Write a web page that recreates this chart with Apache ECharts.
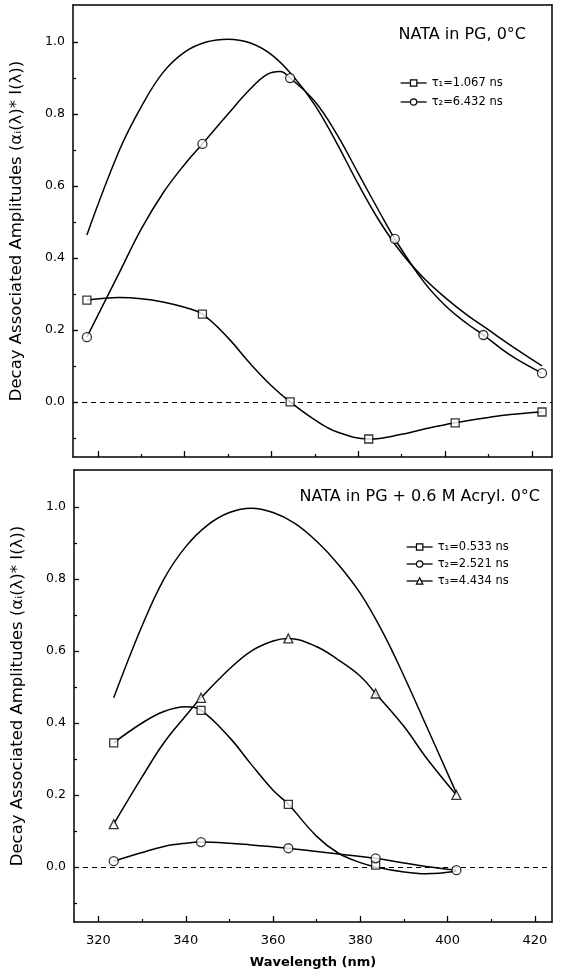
<!DOCTYPE html>
<html><head><meta charset="utf-8">
<script src="https://cdn.jsdelivr.net/npm/echarts@6/dist/echarts.min.js"></script>
<style>html,body{margin:0;padding:0;background:#fff}#c{width:561px;height:975px}</style>
</head><body><div id="c"></div>
<script>
// ---------- data ----------
const xTickVals = [320, 340, 360, 380, 400, 420];
const xMinorVals = [330, 350, 370, 390, 410];
const yTickVals = [0, 0.2, 0.4, 0.6, 0.8, 1.0];
const yTickLabels = ['0.0', '0.2', '0.4', '0.6', '0.8', '1.0'];
const yMinorVals = [-0.1, 0.1, 0.3, 0.5, 0.7, 0.9];

// top panel: NATA in PG, 0°C
const topT1Points = [[317.5, 0.283], [344.1, 0.244], [364.3, 0.0], [382.4, -0.103], [402.3, -0.058], [422.3, -0.028]];
const topT2Points = [[317.5, 0.18], [344.1, 0.717], [364.3, 0.9], [388.4, 0.453], [408.8, 0.186], [422.3, 0.08]];
const topT1Curve = [[317.5, 0.283], [325, 0.29], [330, 0.287], [335, 0.278], [340, 0.263], [344.1, 0.244], [350, 0.178], [355, 0.108], [360, 0.045], [364.3, 0.0], [370, -0.05], [375, -0.083], [382.4, -0.103], [390, -0.09], [395, -0.076], [402.3, -0.058], [410, -0.043], [415, -0.035], [422.3, -0.028]];
const topT2Curve = [[317.5, 0.18], [325, 0.36], [330, 0.48], [335, 0.58], [340, 0.66], [344.1, 0.717], [350, 0.80], [355, 0.868], [359, 0.91], [362, 0.918], [364.3, 0.9], [370, 0.835], [375, 0.745], [380, 0.635], [385, 0.525], [388.4, 0.453], [395, 0.335], [400, 0.268], [405, 0.218], [408.8, 0.186], [415, 0.13], [422.3, 0.08]];
const topSumCurve = [[317.5, 0.464], [325, 0.70], [330, 0.82], [335, 0.915], [340, 0.972], [345, 1.0], [350, 1.008], [355, 0.998], [360, 0.965], [365, 0.905], [370, 0.825], [375, 0.72], [380, 0.605], [385, 0.5], [390, 0.413], [395, 0.345], [400, 0.29], [405, 0.242], [410, 0.2], [415, 0.158], [422.3, 0.1]];

// bottom panel: NATA in PG + 0.6 M Acryl. 0°C
const botT1Points = [[323.5, 0.345], [343.5, 0.435], [363.5, 0.174], [383.5, 0.005]];
const botT2Points = [[323.5, 0.016], [343.5, 0.069], [363.5, 0.052], [383.5, 0.024], [402, -0.009]];
const botT3Points = [[323.5, 0.119], [343.5, 0.47], [363.5, 0.635], [383.5, 0.482], [402, 0.2]];
const botT1Curve = [[323.5, 0.345], [330, 0.40], [335, 0.432], [340, 0.445], [343.5, 0.435], [350, 0.36], [355, 0.285], [360, 0.213], [363.5, 0.174], [370, 0.085], [375, 0.038], [380, 0.012], [383.5, 0.0], [390, -0.014], [395, -0.019], [402, -0.012]];
const botT2Curve = [[323.5, 0.016], [330, 0.04], [335, 0.057], [340, 0.066], [343.5, 0.069], [350, 0.066], [355, 0.061], [363.5, 0.052], [370, 0.043], [375, 0.036], [383.5, 0.024], [390, 0.011], [395, 0.001], [402, -0.009]];
const botT3Curve = [[323.5, 0.119], [330, 0.25], [335, 0.345], [340, 0.42], [343.5, 0.47], [350, 0.55], [355, 0.60], [360, 0.628], [363.5, 0.635], [370, 0.612], [375, 0.575], [380, 0.53], [383.5, 0.482], [390, 0.39], [395, 0.305], [402, 0.2]];
const botSumCurve = [[323.5, 0.47], [330, 0.67], [335, 0.80], [340, 0.89], [345, 0.95], [350, 0.985], [355, 0.997], [360, 0.985], [365, 0.955], [370, 0.905], [375, 0.84], [380, 0.76], [385, 0.655], [390, 0.53], [395, 0.395], [402, 0.205]];

const topNames = ['τ\u2081=1.067 ns', 'τ\u2082=6.432 ns'];
const botNames = ['τ\u2081=0.533 ns', 'τ\u2082=2.521 ns', 'τ\u2083=4.434 ns'];
const topTitle = 'NATA in PG, 0°C';
const botTitle = 'NATA in PG + 0.6 M Acryl. 0°C';
const yName = 'Decay Associated Amplitudes (α\u1D62(λ)* I(λ))';
const xName = 'Wavelength (nm)';

// ---------- chart ----------
const FONT = '"DejaVu Sans", Arial, sans-serif';
const K = '#000';
const grids = [
  {left: 70, top: 5, width: 482, height: 452, xmin: 314.3, xmax: 424.6, labels: false},
  {left: 74, top: 470, width: 478, height: 452, xmin: 314.4, xmax: 423.9, labels: true}
];
const xAxis = [], yAxis = [];
grids.forEach((g, i) => {
  const base = {type: 'value', gridIndex: i, min: g.xmin, max: g.xmax, splitLine: {show: false}};
  xAxis.push(Object.assign({}, base, {
    position: 'bottom',
    axisLine: {show: true, onZero: false, lineStyle: {color: K, width: 1.5}},
    axisTick: {show: true, inside: true, length: 6, customValues: xTickVals, lineStyle: {color: K, width: 1.3}},
    axisLabel: {show: g.labels, customValues: xTickVals, color: K, fontFamily: FONT, fontSize: 13, margin: 12},
    name: g.labels ? xName : '', nameLocation: 'middle', nameGap: 34,
    nameTextStyle: {color: K, fontFamily: FONT, fontSize: 13, fontWeight: 'bold'}
  }));
  xAxis.push(Object.assign({}, base, {
    position: 'bottom',
    axisLine: {show: false, onZero: false},
    axisTick: {show: true, inside: true, length: 3, customValues: xMinorVals, lineStyle: {color: K, width: 1.2}},
    axisLabel: {show: false}
  }));
  xAxis.push(Object.assign({}, base, {
    position: 'top',
    axisLine: {show: true, onZero: false, lineStyle: {color: K, width: 1.5}},
    axisTick: {show: false}, axisLabel: {show: false}
  }));
  const ybase = {type: 'value', gridIndex: i, min: -0.153, max: 1.103, splitLine: {show: false}};
  yAxis.push(Object.assign({}, ybase, {
    position: 'left',
    axisLine: {show: true, onZero: false, lineStyle: {color: K, width: 1.5}},
    axisTick: {show: true, inside: true, length: 5, customValues: yTickVals, lineStyle: {color: K, width: 1.3}},
    axisLabel: {show: true, customValues: yTickVals, color: K, fontFamily: FONT, fontSize: 12.5, margin: 8,
      formatter: v => yTickLabels[yTickVals.findIndex(t => Math.abs(t - v) < 1e-6)] || ''},
    name: yName, nameLocation: 'middle', nameGap: 48, nameRotate: 90,
    nameTextStyle: {color: K, fontFamily: FONT, fontSize: 16.5}
  }));
  yAxis.push(Object.assign({}, ybase, {
    position: 'left',
    axisLine: {show: false, onZero: false},
    axisTick: {show: true, inside: true, length: 3, customValues: yMinorVals, lineStyle: {color: K, width: 1.2}},
    axisLabel: {show: false}
  }));
  yAxis.push(Object.assign({}, ybase, {
    position: 'right',
    axisLine: {show: true, onZero: false, lineStyle: {color: K, width: 1.5}},
    axisTick: {show: false}, axisLabel: {show: false}
  }));
});

function curve(name, data, sym, gi, extra) {
  return Object.assign({
    name: name, type: 'line', xAxisIndex: gi * 3, yAxisIndex: gi * 3, data: data,
    smooth: 0.4, symbol: sym, symbolSize: 8, showSymbol: false, z: 2,
    lineStyle: {color: K, width: 1.5}, itemStyle: {color: '#fff', borderColor: K, borderWidth: 1.2},
    emphasis: {disabled: true}
  }, extra || {});
}
function pts(data, sym, gi, size) {
  return {
    type: 'scatter', xAxisIndex: gi * 3, yAxisIndex: gi * 3, data: data, symbol: sym, symbolSize: size || 8, z: 5,
    itemStyle: {color: '#fff', borderColor: K, borderWidth: 1.3}, emphasis: {disabled: true}
  };
}
const zeroLine = {silent: true, symbol: 'none', label: {show: false},
  lineStyle: {color: K, type: [5, 4], width: 1}, data: [{yAxis: 0}]};

const series = [
  curve('topSum', topSumCurve, 'none', 0, {markLine: zeroLine}),
  curve(topNames[0], topT1Curve, 'rect', 0),
  curve(topNames[1], topT2Curve, 'circle', 0),
  pts(topT1Points, 'rect', 0, 8),
  pts(topT2Points, 'circle', 0, 9),
  curve('botSum', botSumCurve, 'none', 1, {markLine: zeroLine}),
  curve(botNames[0], botT1Curve, 'rect', 1),
  curve(botNames[1], botT2Curve, 'circle', 1),
  curve(botNames[2], botT3Curve, 'triangle', 1),
  pts(botT1Points, 'rect', 1, 8),
  pts(botT2Points, 'circle', 1, 9),
  pts(botT3Points, 'triangle', 1, 9)
];

const legendBase = {orient: 'vertical', itemWidth: 26, itemHeight: 8, itemGap: 7, selectedMode: false,
  itemStyle: {color: '#fff', borderColor: K, borderWidth: 1.2},
  lineStyle: {color: K, width: 1.3},
  textStyle: {color: K, fontFamily: FONT, fontSize: 11.5}};
const option = {
  backgroundColor: '#fff',
  animation: false,
  title: [
    {text: topTitle, right: 30, top: 22, textStyle: {color: K, fontFamily: FONT, fontSize: 16, fontWeight: 'normal'}},
    {text: botTitle, right: 16, top: 484, textStyle: {color: K, fontFamily: FONT, fontSize: 16, fontWeight: 'normal'}}
  ],
  legend: [
    Object.assign({}, legendBase, {data: topNames, left: 395, top: 72}),
    Object.assign({}, legendBase, {data: botNames, left: 401, top: 536, itemGap: 5})
  ],
  grid: grids.map(g => ({left: g.left, top: g.top, width: g.width, height: g.height})),
  xAxis: xAxis, yAxis: yAxis, series: series
};
const chart = echarts.init(document.getElementById('c'), null, {renderer: 'canvas'});
chart.setOption(option);
</script></body></html>
